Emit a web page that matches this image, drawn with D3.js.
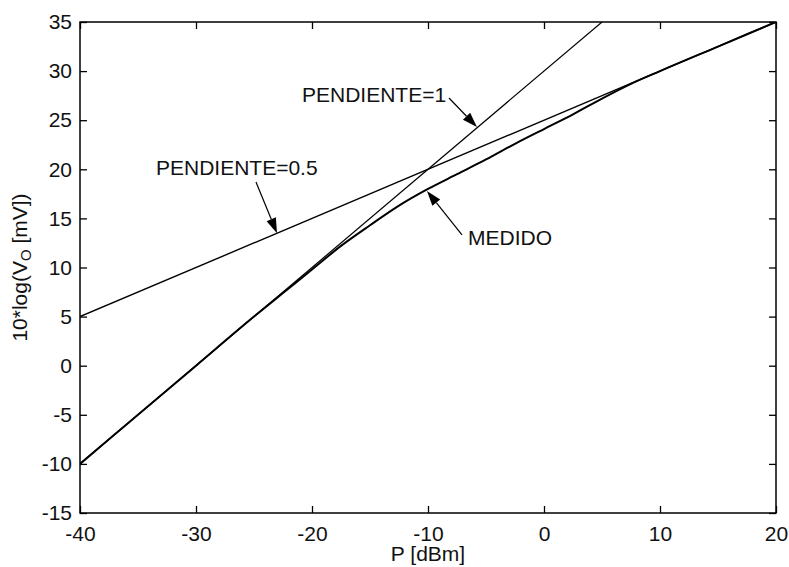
<!DOCTYPE html>
<html>
<head>
<meta charset="utf-8">
<script src="https://cdn.jsdelivr.net/npm/d3@7"></script>
<style>
  html, body { margin: 0; padding: 0; background: #fff; }
  svg { display: block; font-family: "Liberation Sans", Arial, Helvetica, sans-serif; }
</style>
</head>
<body>
<div id="chart"></div>
<script>
// Tick values
const xTicks = [-40, -30, -20, -10, 0, 10, 20];
const yTicks = [-15, -10, -5, 0, 5, 10, 15, 20, 25, 30, 35];

// Reference lines (end points)
const slopeOneP = [-40, 5];
const slopeOneV = [-10, 35];
const slopeHalfP = [-40, 20];
const slopeHalfV = [5, 35];

// Measured curve
const medidoP = [-40, -35, -30, -25, -22.5, -20, -17.5, -15, -12.5, -10, -7.5, -5, -2.5, 0, 2.5, 5, 7.5, 10, 15, 20];
const medidoV = [-10, -5, 0, 5, 7.4, 9.8, 12.2, 14.3, 16.3, 18.0, 19.5, 21.0, 22.6, 24.1, 25.6, 27.2, 28.7, 30.0, 32.5, 35];

// Annotations: label anchor, arrow start, arrow tip (data units)
const annotations = [
  { text: "PENDIENTE=1", lx: -20.86, ly: 26.85, ax: -8.19, ay: 27.26, tx: -5.78, ty: 24.3 },
  { text: "PENDIENTE=0.5", lx: -33.45, ly: 19.42, ax: -24.83, ay: 18.71, tx: -23.02, ty: 13.5 },
  { text: "MEDIDO", lx: -6.55, ly: 12.29, ax: -7.07, ay: 13.31, tx: -10.09, ty: 17.8 }
];

const width = 789;
const height = 567;
const margin = { top: 22, right: 13, bottom: 54, left: 80 };
const innerWidth = width - margin.left - margin.right;
const innerHeight = height - margin.top - margin.bottom;
const fontSize = "21px";

const svg = d3
  .select("#chart")
  .append("svg")
  .attr("width", width)
  .attr("height", height);

const g = svg.append("g").attr("transform", `translate(${margin.left},${margin.top})`);

const xScale = d3.scaleLinear().domain([-40, 20]).range([0, innerWidth]);
const yScale = d3.scaleLinear().domain([-15, 35]).range([innerHeight, 0]);

const tickLen = 7;
const plain = (d) => String(d); // ASCII hyphen minus, like the original

// Axes with inward ticks on all four sides
const styleAxis = (sel) => {
  sel.select(".domain").remove();
  sel.selectAll(".tick line").attr("stroke", "#000").attr("stroke-width", 1.3);
  sel.selectAll(".tick text").attr("fill", "#111").style("font-size", fontSize);
};
const noLabels = (sel) => sel.selectAll(".tick text").remove();

g.append("g")
  .attr("transform", `translate(0,${innerHeight})`)
  .call(d3.axisBottom(xScale).tickValues(xTicks).tickSize(-tickLen).tickPadding(13).tickFormat(plain))
  .call(styleAxis)
  .call((s) => s.selectAll(".tick text").attr("dy", "0.71em"));

g.append("g")
  .call(d3.axisTop(xScale).tickValues(xTicks).tickSize(-tickLen))
  .call(styleAxis)
  .call(noLabels);

g.append("g")
  .call(d3.axisLeft(yScale).tickValues(yTicks).tickSize(-tickLen).tickPadding(8).tickFormat(plain))
  .call(styleAxis);

g.append("g")
  .attr("transform", `translate(${innerWidth},0)`)
  .call(d3.axisRight(yScale).tickValues(yTicks).tickSize(-tickLen))
  .call(styleAxis)
  .call(noLabels);

// Frame
g.append("rect")
  .attr("width", innerWidth)
  .attr("height", innerHeight)
  .attr("fill", "none")
  .attr("stroke", "#000")
  .attr("stroke-width", 1.5);

// Lines
const line = d3
  .line()
  .x((d) => xScale(d[0]))
  .y((d) => yScale(d[1]));

g.append("clipPath").attr("id", "plot-clip").append("rect")
  .attr("width", innerWidth).attr("height", innerHeight);

const plot = g.append("g").attr("clip-path", "url(#plot-clip)");

plot.append("path")
  .datum(d3.zip(slopeOneP, slopeOneV))
  .attr("fill", "none")
  .attr("stroke", "#000")
  .attr("stroke-width", 1.2)
  .attr("d", line);

plot.append("path")
  .datum(d3.zip(slopeHalfP, slopeHalfV))
  .attr("fill", "none")
  .attr("stroke", "#000")
  .attr("stroke-width", 1.4)
  .attr("d", line);

plot.append("path")
  .datum(d3.zip(medidoP, medidoV))
  .attr("fill", "none")
  .attr("stroke", "#000")
  .attr("stroke-width", 2)
  .attr("stroke-linejoin", "round")
  .attr("d", line.curve(d3.curveMonotoneX));

// Annotations with filled arrowheads
annotations.forEach((a) => {
  const x0 = xScale(a.ax), y0 = yScale(a.ay);
  const x1 = xScale(a.tx), y1 = yScale(a.ty);
  const ang = Math.atan2(y1 - y0, x1 - x0);
  const headLen = 15, headW = 5;
  const bx = x1 - headLen * Math.cos(ang), by = y1 - headLen * Math.sin(ang);
  const nx = -Math.sin(ang) * headW, ny = Math.cos(ang) * headW;

  g.append("line")
    .attr("x1", x0).attr("y1", y0)
    .attr("x2", bx).attr("y2", by)
    .attr("stroke", "#000")
    .attr("stroke-width", 1.2);

  g.append("path")
    .attr("d", `M${x1},${y1}L${bx + nx},${by + ny}L${bx - nx},${by - ny}Z`)
    .attr("fill", "#000");

  g.append("text")
    .attr("x", xScale(a.lx))
    .attr("y", yScale(a.ly))
    .attr("fill", "#111")
    .style("font-size", fontSize)
    .text(a.text);
});

// Axis titles
svg.append("text")
  .attr("x", margin.left + innerWidth / 2)
  .attr("y", 561)
  .attr("text-anchor", "middle")
  .attr("fill", "#111")
  .style("font-size", fontSize)
  .text("P [dBm]");

const yTitle = svg.append("text")
  .attr("transform", `translate(27,${margin.top + innerHeight / 2}) rotate(-90)`)
  .attr("text-anchor", "middle")
  .attr("fill", "#111")
  .style("font-size", fontSize);
yTitle.append("tspan").text("10*log(V");
yTitle.append("tspan").attr("dy", 4).style("font-size", "15px").text("O");
yTitle.append("tspan").attr("dy", -4).text(" [mV])");
</script>
</body>
</html>
